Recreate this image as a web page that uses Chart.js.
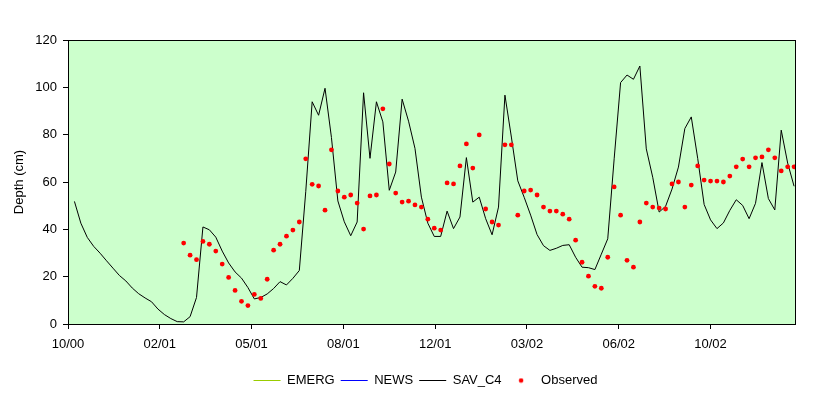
<!DOCTYPE html>
<html>
<head>
<meta charset="utf-8">
<script src="https://cdn.jsdelivr.net/npm/chart.js@4/dist/chart.umd.min.js"></script>
<style>
  html, body { margin: 0; padding: 0; background: #fff; }
</style>
</head>
<body>
<canvas id="depthChart" width="831" height="398"></canvas>
<script>
// x axis: days from axis start, data sampled weekly
const xTickDays = [0, 100, 200, 300, 400, 500, 600, 700];
const xTickLabels = ['10/00', '02/01', '05/01', '08/01', '12/01', '03/02', '06/02', '10/02'];
const xMaxDay = 792;
const stepDays = 7;

const savFirstDay = 7;
const savDepth = [
  51.8, 42.6, 36.6, 32.8, 29.9, 26.7, 23.6, 20.5, 18.2, 15.2,
  12.8, 11.0, 9.4, 6.3, 4.0, 2.3, 1.0, 0.9, 3.1, 11.2,
  41.0, 39.8, 36.7, 30.8, 25.8, 22.0, 19.4, 15.4, 10.6, 11.2,
  12.7, 15.0, 17.9, 16.5, 19.3, 22.6, 55.9, 93.9, 88.2, 99.6,
  78.8, 52.0, 43.2, 37.3, 43.1, 97.7, 70.0, 93.9, 85.4, 56.5,
  64.2, 95.0, 85.7, 74.2, 53.6, 42.6, 37.0, 37.0, 47.7, 40.3,
  45.2, 70.3, 51.5, 53.6, 44.5, 37.7, 49.4, 96.7, 79.0, 60.5,
  53.5, 46.0, 37.8, 33.1, 31.1, 32.0, 33.2, 33.5, 28.2, 24.0,
  23.8, 23.0, 29.5, 36.0, 69.8, 102.0, 105.2, 103.4, 109.0, 74.0,
  62.0, 47.3, 49.7, 57.0, 66.3, 82.6, 87.5, 70.0, 50.5, 44.0,
  40.3, 42.7, 48.0, 52.5, 50.1, 44.5, 51.0, 68.2, 53.0, 48.2,
  81.9, 68.0, 58.2
];

const obsFirstDay = 126;
const obsDepth = [
  34.2, 29.1, 27.2, 34.9, 33.7, 30.8, 25.3, 19.7, 14.2, 9.6,
  7.8, 12.5, 10.8, 18.9, 31.2, 33.7, 37.1, 39.7, 43.1, 69.8,
  59.0, 58.3, 48.1, 73.6, 56.2, 53.6, 54.5, 51.1, 40.1, 54.1,
  54.5, 90.9, 67.6, 55.3, 51.5, 51.9, 50.3, 49.4, 44.3, 40.5,
  39.7, 59.6, 59.2, 66.8, 76.1, 65.9, 79.9, 48.6, 43.1, 41.8,
  75.7, 75.7, 46.0, 56.2, 56.6, 54.5, 49.4, 47.7, 47.7, 46.4,
  44.3, 35.4, 26.1, 20.2, 15.9, 15.1, 28.2, 57.9, 46.0, 26.9,
  24.0, 43.1, 51.1, 49.4, 49.0, 48.6, 59.2, 60.0, 49.4, 58.7,
  66.8, 60.8, 60.4, 60.4, 60.0, 62.5, 66.4, 69.7, 66.4, 70.2,
  70.6, 73.6, 70.2, 64.7, 66.4, 66.4
];

// no values visible for these two runs
const emergDepth = [];
const newsDepth = [];

const toPoints = (vals, first) => vals.map((v, i) => ({ x: first + i * stepDays, y: v }));

const FONT = 'Arial, "Liberation Sans", sans-serif';

// small red dot for the legend entry
const dotImg = document.createElement('canvas');
dotImg.width = 6; dotImg.height = 6;
(function () {
  const c = dotImg.getContext('2d');
  c.fillStyle = '#FF0000';
  c.beginPath(); c.arc(3, 3, 2.3, 0, Math.PI * 2); c.fill();
})();

const plotFrame = {
  id: 'plotFrame',
  beforeDraw(chart) {
    const { ctx, chartArea: a } = chart;
    ctx.save();
    ctx.fillStyle = '#FFFFFF';
    ctx.fillRect(0, 0, chart.width, chart.height);
    ctx.fillStyle = '#CCFFCC';
    ctx.fillRect(a.left, a.top, a.right - a.left, a.bottom - a.top);
    ctx.restore();
  },
  afterDatasetsDraw(chart) {
    const { ctx, chartArea: a } = chart;
    ctx.save();
    ctx.strokeStyle = '#000000';
    ctx.lineWidth = 1;
    ctx.strokeRect(Math.round(a.left) + 0.5, Math.round(a.top) + 0.5,
      Math.round(a.right - a.left), Math.round(a.bottom - a.top));
    ctx.restore();
  },
  afterLayout(chart) {
    // centre the legend under the plot like the original
    const lg = chart.legend;
    if (lg) { lg.left += 28; lg.right += 28; }
  }
};

new Chart(document.getElementById('depthChart'), {
  type: 'line',
  data: {
    datasets: [
      { label: 'EMERG', data: toPoints(emergDepth, savFirstDay), borderColor: '#99CC00', borderWidth: 1, pointRadius: 0, order: 3 },
      { label: 'NEWS', data: toPoints(newsDepth, savFirstDay), borderColor: '#0000FF', borderWidth: 1, pointRadius: 0, order: 2 },
      { label: 'SAV_C4', data: toPoints(savDepth, savFirstDay), borderColor: '#000000', borderWidth: 1, pointRadius: 0, order: 1 },
      { label: 'Observed', data: toPoints(obsDepth, obsFirstDay), showLine: false, borderColor: '#FF0000',
        backgroundColor: '#FF0000', pointRadius: 2.4, pointBorderWidth: 0, pointStyle: 'circle', order: 0 }
    ]
  },
  options: {
    responsive: false,
    animation: false,
    layout: { padding: { top: 40, right: 36, left: 0, bottom: 1 } },
    scales: {
      x: {
        type: 'linear',
        min: 0,
        max: xMaxDay,
        afterBuildTicks: (scale) => { scale.ticks = xTickDays.map(v => ({ value: v })); },
        afterFit: (scale) => { scale.height = 44; },
        border: { display: false },
        grid: { drawOnChartArea: false, drawTicks: true, tickLength: 5, color: '#000000' },
        ticks: {
          callback: (v) => xTickLabels[xTickDays.indexOf(v)],
          color: '#000000', font: { family: FONT, size: 13 }, padding: 8, maxRotation: 0, autoSkip: false
        }
      },
      y: {
        min: 0,
        max: 120,
        afterFit: (scale) => { scale.width = 68; },
        border: { display: false },
        grid: { drawOnChartArea: false, drawTicks: true, tickLength: 5, color: '#000000' },
        ticks: { stepSize: 20, color: '#000000', font: { family: FONT, size: 13 }, padding: 6 },
        title: { display: true, text: 'Depth (cm)', color: '#000000', font: { family: FONT, size: 13 }, padding: { top: 12, bottom: 0 } }
      }
    },
    plugins: {
      tooltip: { enabled: false },
      legend: {
        position: 'bottom',
        labels: {
          color: '#000000',
          font: { family: FONT, size: 13 },
          padding: 6,
          boxWidth: 27,
          boxHeight: 6,
          usePointStyle: true,
          pointStyleWidth: 27,
          generateLabels: (chart) => chart.data.datasets.map((ds, i) => ({
            text: ds.label,
            fillStyle: ds.borderColor,
            strokeStyle: ds.borderColor,
            lineWidth: 1,
            pointStyle: ds.label === 'Observed' ? dotImg : 'line',
            hidden: false,
            datasetIndex: i,
            fontColor: '#000000'
          }))
        }
      }
    }
  },
  plugins: [plotFrame]
});
</script>
</body>
</html>
